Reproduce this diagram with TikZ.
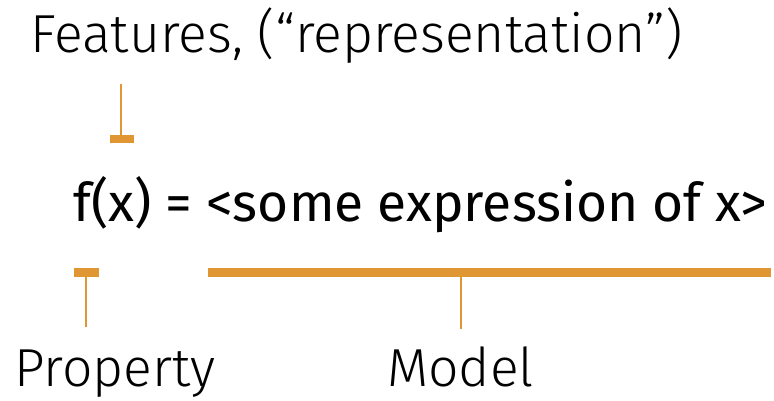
\documentclass[tikz,border=0pt]{standalone}
\usepackage{fontspec}
\setmainfont{Fira Sans}
\newfontfamily\lightfont{Fira Sans Light}
\definecolor{accent}{HTML}{DF9633}
\begin{document}
\begin{tikzpicture}[x=1pt,y=-1pt,
  lbl/.style={inner sep=0pt,anchor=base west,font=\lightfont\fontsize{53.5}{60}\selectfont},
  mainexpr/.style={inner sep=0pt,anchor=base west,font=\fontsize{53.3}{60}\selectfont},
  thin/.style={draw=accent,line width=2.5pt},
  bar/.style={draw=accent,line width=8.5pt}]
\useasboundingbox (0,0) rectangle (774,401);
\node[lbl] (feat) at (30,53) {Features, (“representation”)};
\node[mainexpr] (expr) at (73,222) {f(x) = <some expression of x>};
\node[lbl] (prop) at (14,386) {Property};
\node[lbl] (model) at (387,386) {Model};
% features marker
\coordinate (fTop) at (121,84);
\coordinate (fBar) at (121,139);
\draw[thin] (fTop) -- (fBar);
\draw[bar] (110,139) -- (134,139);
% property marker
\coordinate (pBar) at (86,272.5);
\coordinate (pBot) at (86,327);
\draw[bar] (74,272.5) -- (99,272.5);
\draw[thin] (pBar) -- (pBot);
% model marker
\coordinate (mBar) at (461,272.5);
\coordinate (mBot) at (461,329);
\draw[bar] (208,272.5) -- (771,272.5);
\draw[thin] (mBar) -- (mBot);
\end{tikzpicture}
\end{document}
